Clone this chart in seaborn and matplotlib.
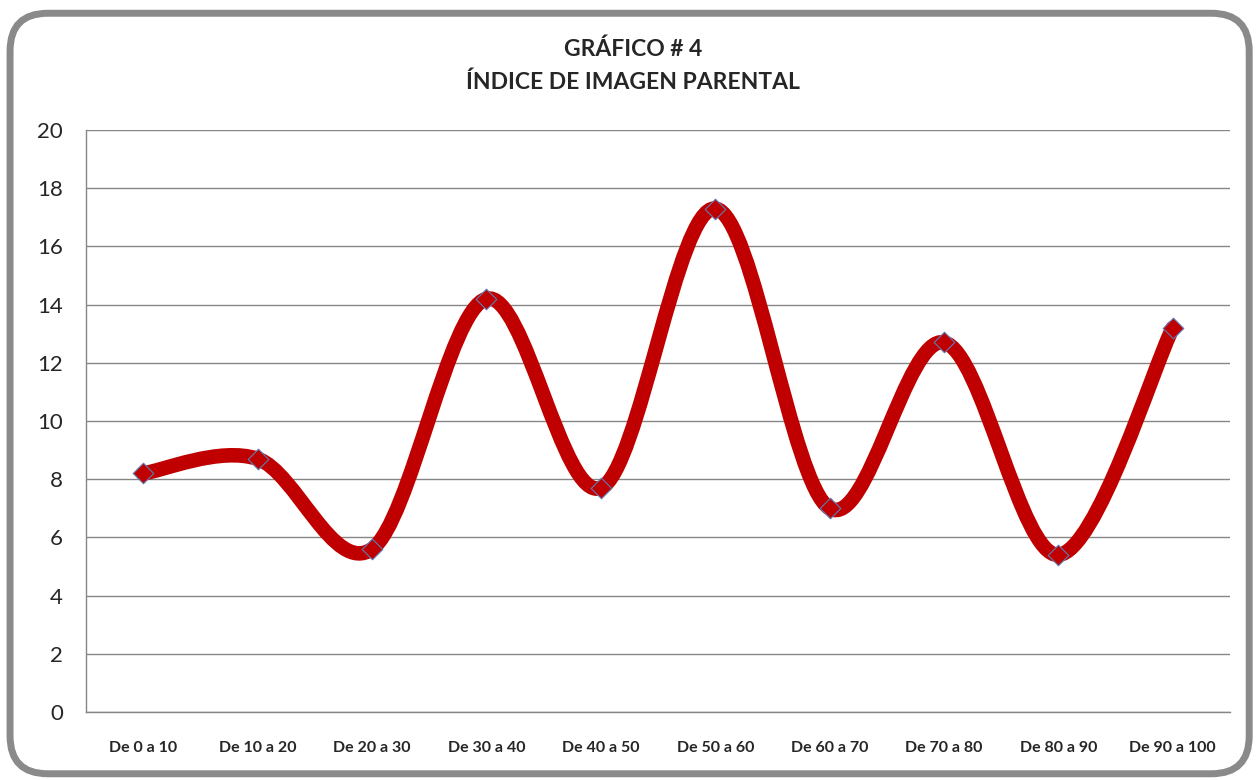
import numpy as np
import pandas as pd
import matplotlib
matplotlib.use("Agg")
import matplotlib.pyplot as plt
import seaborn as sns
from matplotlib.path import Path
from matplotlib.patches import PathPatch, FancyBboxPatch

categories = ["De 0 a 10", "De 10 a 20", "De 20 a 30", "De 30 a 40", "De 40 a 50",
              "De 50 a 60", "De 60 a 70", "De 70 a 80", "De 80 a 90", "De 90 a 100"]
values = [8.2, 8.7, 5.6, 14.2, 7.7, 17.3, 7.0, 12.7, 5.4, 13.2]

df = pd.DataFrame({"rango": categories, "indice": values, "pos": np.arange(len(categories))})

sns.set_style("white")
plt.rcParams["font.family"] = ["Lato", "DejaVu Sans"]

fig = plt.figure(figsize=(12.58, 7.80), dpi=100)
ax = fig.add_axes([0.0684, 0.0872, 0.9093, 0.7461])

# smoothed line like Excel (bezier through the points)
x = df["pos"].to_numpy(dtype=float)
y = df["indice"].to_numpy(dtype=float)
verts = [(x[0], y[0])]
codes = [Path.MOVETO]
n = len(x)
for i in range(n - 1):
    p0 = (x[max(i - 1, 0)], y[max(i - 1, 0)])
    p1 = (x[i], y[i])
    p2 = (x[i + 1], y[i + 1])
    p3 = (x[min(i + 2, n - 1)], y[min(i + 2, n - 1)])
    c1 = (p1[0] + (p2[0] - p0[0]) / 6, p1[1] + (p2[1] - p0[1]) / 6)
    c2 = (p2[0] - (p3[0] - p1[0]) / 6, p2[1] - (p3[1] - p1[1]) / 6)
    verts += [c1, c2, p2]
    codes += [Path.CURVE4] * 3
ax.add_patch(PathPatch(Path(verts, codes), facecolor="none", edgecolor="#C00000",
                       lw=10.5, capstyle="round", joinstyle="round", zorder=3))

sns.scatterplot(data=df, x="pos", y="indice", marker="D", s=110, color="#C00000",
                edgecolor="#5B7DB8", linewidth=0.8, ax=ax, zorder=4)

ax.set_xlim(-0.5, 9.5)
ax.set_ylim(0, 20)
ax.set_yticks(np.arange(0, 21, 2))
ax.set_xticks(np.arange(10))
ax.set_xticklabels(categories, fontsize=11.5, fontweight="bold")
ax.set_xticks(np.arange(-0.5, 10, 1), minor=True)
ax.tick_params(axis="x", which="major", length=0, pad=21)
ax.tick_params(axis="x", which="minor", length=4.5, color="#868686", width=1)
ax.tick_params(axis="y", length=6.5, color="#868686", width=1, labelsize=16, pad=10)
ax.yaxis.grid(True, color="#868686", lw=1)
ax.set_axisbelow(True)
ax.set_xlabel("")
ax.set_ylabel("")
for s in ["top", "right"]:
    ax.spines[s].set_visible(False)
for s in ["left", "bottom"]:
    ax.spines[s].set_color("#868686")
    ax.spines[s].set_linewidth(1)

fig.text(0.503, 0.937, "GRÁFICO # 4", ha="center", va="center", fontsize=16.5, fontweight="bold")
fig.text(0.503, 0.894, "ÍNDICE DE IMAGEN PARENTAL", ha="center", va="center",
         fontsize=16.5, fontweight="bold")

border = FancyBboxPatch((0.008, 0.008), 0.985, 0.975, boxstyle="round,pad=0,rounding_size=0.03",
                        transform=fig.transFigure, facecolor="none", edgecolor="#8A8A8A",
                        lw=5, mutation_aspect=1258 / 780, zorder=0)
fig.patches.append(border)

fig.savefig("out.png", dpi=100)
